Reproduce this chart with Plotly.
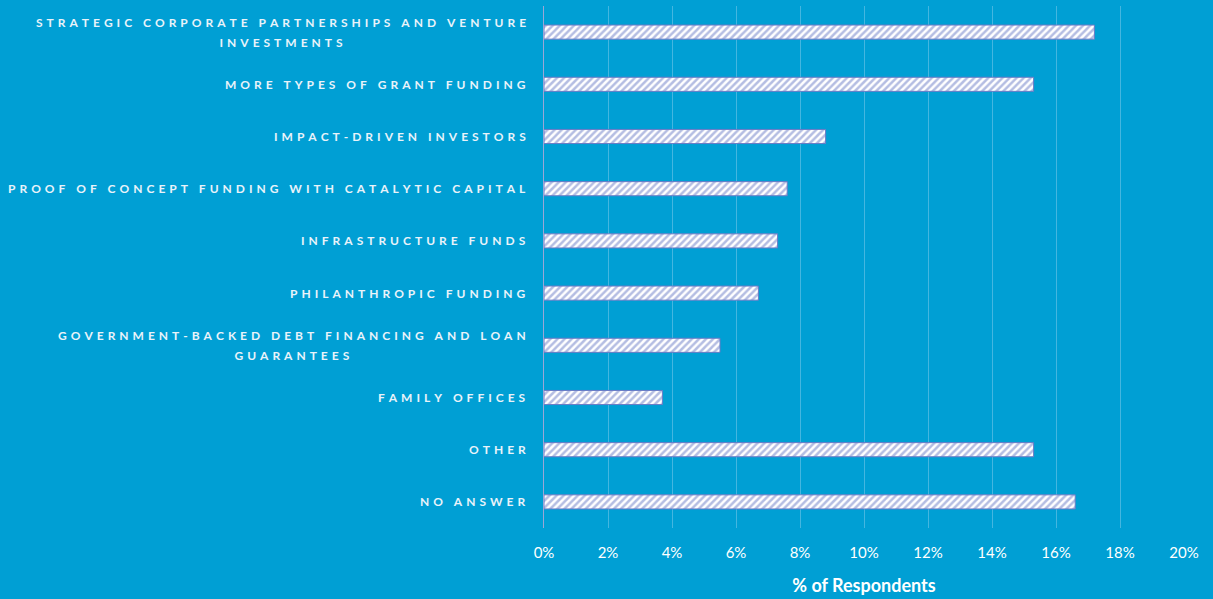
import plotly.graph_objects as go

# Funding sources (top to bottom) and share of respondents (%)
categories = [
    "STRATEGIC CORPORATE PARTNERSHIPS AND VENTURE|INVESTMENTS",
    "MORE TYPES OF GRANT FUNDING",
    "IMPACT-DRIVEN INVESTORS",
    "PROOF OF CONCEPT FUNDING WITH CATALYTIC CAPITAL",
    "INFRASTRUCTURE FUNDS",
    "PHILANTHROPIC FUNDING",
    "GOVERNMENT-BACKED DEBT FINANCING AND LOAN|GUARANTEES",
    "FAMILY OFFICES",
    "OTHER",
    "NO ANSWER",
]
values = [17.2, 15.3, 8.8, 7.6, 7.3, 6.7, 5.5, 3.7, 15.3, 16.6]
tick_values = [0, 2, 4, 6, 8, 10, 12, 14, 16, 18, 20]
tick_labels = [f"{v}%" for v in tick_values]

BG = "#009fd4"
HATCH = "#6a7bc6"
SPACER = "\u2004"  # widens the letter spacing of the category labels


def spaced(text):
    return SPACER.join(text.replace(" ", "\u00a0"))


fig = go.Figure(
    go.Bar(
        x=values,
        y=list(range(len(categories))),
        orientation="h",
        marker=dict(
            color="white",
            line=dict(color=HATCH, width=1),
            pattern=dict(shape="/", fgcolor=HATCH, bgcolor="white",
                         size=5, solidity=0.5),
        ),
        width=0.27,
        hoverinfo="x",
    )
)

# Category labels, right-aligned against the axis, wrapped lines centred
for i, cat in enumerate(categories):
    lines = [spaced(part) for part in cat.split("|")]
    text = "<br>".join(
        f"<span style='font-size:12px'>{ln}</span>" for ln in lines
    )
    fig.add_annotation(
        x=0, xref="paper", xanchor="right", xshift=-16,
        y=i, yref="y", yanchor="middle",
        text=text, align="center", showarrow=False,
        font=dict(family="Lato", size=15.4, color="#e9f3fa", weight="bold"),
    )

fig.update_layout(
    width=1213, height=599,
    margin=dict(l=544, r=29, t=6, b=71),
    paper_bgcolor=BG, plot_bgcolor=BG,
    showlegend=False,
    font=dict(family="Lato", color="white"),
    xaxis=dict(
        range=[0, 20],
        tickvals=tick_values, ticktext=tick_labels,
        tickfont=dict(size=15, color="white"),
        showgrid=True, gridcolor="#44b6e0", gridwidth=1,
        zeroline=False, showline=False, ticks="",
        ticklabelstandoff=14,
        title=dict(text="<b>% of Respondents</b>",
                   font=dict(size=18, color="white"), standoff=19),
    ),
    yaxis=dict(
        range=[len(categories) - 0.5, -0.5],
        showticklabels=False, showgrid=False, zeroline=False,
        showline=True, linecolor="#9aa6d6", linewidth=1, ticks="",
    ),
)

fig.write_html("out.html")
